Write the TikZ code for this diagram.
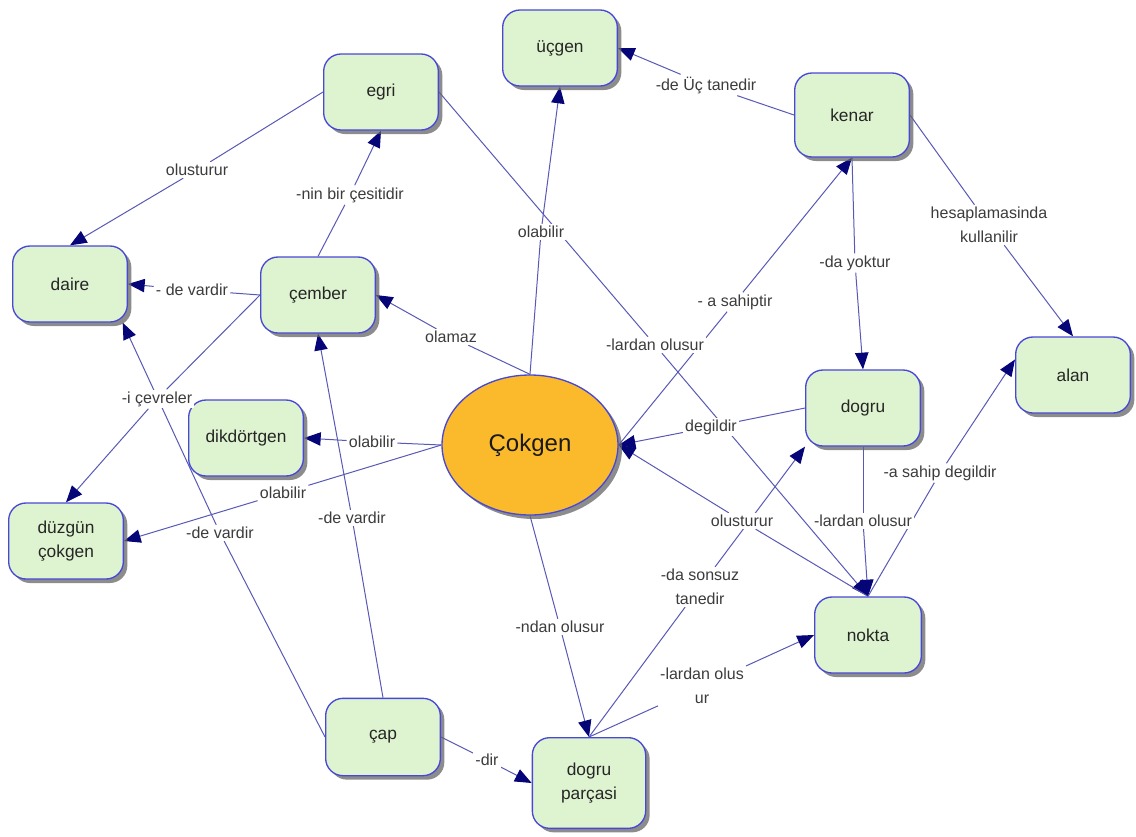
\documentclass[tikz,border=0pt]{standalone}
\usepackage{fontspec}
\setmainfont{Liberation Sans}
\usetikzlibrary{shapes.geometric,shadows,arrows.meta}
\pgfdeclarelayer{background}
\pgfsetlayers{background,main}

\definecolor{boxfill}{RGB}{222,243,207}
\definecolor{boxline}{RGB}{72,72,215}
\definecolor{hubfill}{RGB}{251,186,44}
\definecolor{linkline}{RGB}{88,88,182}
\definecolor{tipfill}{RGB}{5,5,120}
\definecolor{phrasetext}{RGB}{60,60,60}

\tikzset{
  concept/.style={draw=boxline, line width=1pt, fill=boxfill, rounded corners=13pt,
    minimum width=86pt, minimum height=57pt, align=center, inner sep=2pt,
    font=\fontsize{13}{18}\selectfont, text=black!85,
    drop shadow={shadow xshift=3pt, shadow yshift=-3pt, fill=black!60, opacity=.75}},
  hub/.style={ellipse, draw=boxline, line width=1pt, fill=hubfill, inner sep=0pt,
    minimum width=132pt, minimum height=105pt, font=\fontsize{18}{20}\selectfont,
    text=black!90,
    drop shadow={shadow xshift=3pt, shadow yshift=-3pt, fill=black!60, opacity=.75}},
  phrase/.style={fill=white, inner sep=1.5pt, align=center,
    font=\fontsize{12}{18}\selectfont, text=phrasetext},
  link/.style={draw=linkline, line width=0.75pt},
  linkto/.style={link, -{Triangle[length=12.5pt,width=10pt,color=tipfill]}}
}

\begin{document}
\begin{tikzpicture}[x=0.75pt,y=-0.75pt]
\useasboundingbox (0,0) rectangle (1136,836);

% concepts
\node[hub] (cokgen) at (530,445) {Çokgen};
\node[concept] (ucgen) at (560,48) {üçgen};
\node[concept] (egri) at (381,92) {egri};
\node[concept, minimum height=63pt] (kenar) at (852,115) {kenar};
\node[concept] (daire) at (70,284) {daire};
\node[concept] (cember) at (318,295) {çember};
\node[concept] (alan) at (1073,375) {alan};
\node[concept] (dogru) at (863,408) {dogru};
\node[concept] (dikdortgen) at (246,438) {dikdörtgen};
\node[concept] (duzgun) at (66,541) {düzgün\\çokgen};
\node[concept, minimum width=80pt] (nokta) at (868,635) {nokta};
\node[concept, minimum height=58pt] (cap) at (383,737) {çap};
\node[concept, minimum width=85pt, minimum height=68pt] (parca) at (589,783) {dogru\\parçasi};

% linking phrases
\node[phrase] (olustururA) at (197,170) {olusturur};
\node[phrase] (cesit) at (350,195) {-nin bir çesitidir};
\node[phrase] (vardirA) at (192,290) {- de vardir};
\node[phrase] (olamaz) at (451,337) {olamaz};
\node[phrase] (olabilirA) at (541,232) {olabilir};
\node[phrase] (uctane) at (706,85) {-de Üç tanedir};
\node[phrase] (sahip) at (735,302) {- a sahiptir};
\node[phrase] (yoktur) at (855,263) {-da yoktur};
\node[phrase] (hesap) at (989,225) {hesaplamasinda\\kullanilir};
\node[phrase] (lardanA) at (655,345) {-lardan olusur};
\node[phrase] (cevreler) at (157,399) {-i çevreler};
\node[phrase] (olabilirB) at (372,442) {olabilir};
\node[phrase] (olabilirC) at (283,493) {olabilir};
\node[phrase] (vardirB) at (220,533) {-de vardir};
\node[phrase] (vardirC) at (352,518) {-de vardir};
\node[phrase] (degildir) at (711,427) {degildir};
\node[phrase] (olustururB) at (742,521) {olusturur};
\node[phrase] (lardanB) at (863,521) {-lardan olusur};
\node[phrase] (sahipdegil) at (940,473) {-a sahip degildir};
\node[phrase] (ndan) at (560,627) {-ndan olusur};
\node[phrase] (sonsuz) at (700,587) {-da sonsuz\\tanedir};
\node[phrase] (lardanC) at (702,686) {-lardan olus\\ur};
\node[phrase] (dir) at (487,760) {-dir};

% connectors, kept beneath boxes and phrases
\begin{pgfonlayer}{background}
\draw[link] (egri.west) -- (olustururA);
\draw[linkto] (olustururA) -- (daire.north);

\draw[link] (cember.north) -- (cesit);
\draw[linkto] (cesit) -- (egri.south);

\draw[link] (cember.west) -- (vardirA);
\draw[linkto] (vardirA) -- (daire.east);

\draw[link] (cokgen.north) -- (olamaz);
\draw[linkto] (olamaz) -- (cember.east);

\draw[link] (cokgen.north) -- (olabilirA);
\draw[linkto] (olabilirA) -- (ucgen.south);

\draw[link] (kenar.west) -- (uctane);
\draw[linkto] (uctane) -- (ucgen.east);

\draw[link] (cokgen.east) -- (sahip);
\draw[linkto] (sahip) -- (kenar.south);

\draw[link] (kenar.south) -- (yoktur);
\draw[linkto] (yoktur) -- (dogru.north);

\draw[link] (kenar.east) -- (hesap);
\draw[linkto] (hesap) -- (alan.north);

\draw[link] (egri.east) -- (lardanA);
\draw[linkto] (lardanA) -- (nokta.north);

\draw[link] (cokgen.west) -- (olabilirB);
\draw[linkto] (olabilirB) -- (dikdortgen.east);

\draw[link] (cokgen.west) -- (olabilirC);
\draw[linkto] (olabilirC) -- (duzgun.east);

\draw[link] (cember.west) -- (cevreler);
\draw[linkto] (cevreler) -- (duzgun.north);

\draw[link] (cap.west) -- (vardirB);
\draw[linkto] (vardirB) -- ([xshift=-4pt]daire.south east);

\draw[link] (cap.north) -- (vardirC);
\draw[linkto] (vardirC) -- (cember.south);

\draw[link] (dogru.west) -- (degildir);
\draw[linkto] (degildir) -- (cokgen.east);

\draw[link] (nokta.north) -- (olustururB);
\draw[linkto] (olustururB) -- (cokgen.east);

\draw[link] (dogru.south) -- (lardanB);
\draw[linkto] (lardanB) -- (nokta.north);

\draw[link] (nokta.north) -- (sahipdegil);
\draw[linkto] (sahipdegil) -- (alan.165);

\draw[link] (cokgen.south) -- (ndan);
\draw[linkto] (ndan) -- (parca.north);

\draw[link] (parca.north) -- (sonsuz);
\draw[linkto] (sonsuz) -- (dogru.south west);

\draw[link] (parca.north) -- (lardanC);
\draw[linkto] (lardanC) -- (nokta.west);

\draw[link] (cap.east) -- (dir);
\draw[linkto] (dir) -- (parca.west);
\end{pgfonlayer}
\end{tikzpicture}
\end{document}
